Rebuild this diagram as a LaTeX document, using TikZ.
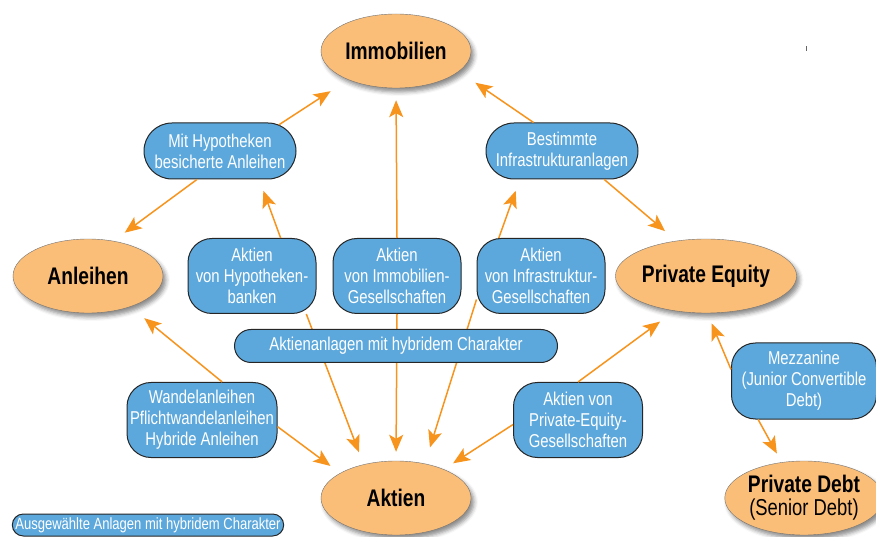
\documentclass[tikz,border=0pt]{standalone}
\usepackage{fontspec}
\setmainfont{Liberation Sans}[FakeStretch=0.8]
\usetikzlibrary{shapes.geometric, shapes.misc, arrows.meta, shadows.blur}
\definecolor{assetorange}{HTML}{FBBE78}
\definecolor{hybblue}{HTML}{5CA8DC}
\definecolor{flowline}{HTML}{F7941D}

\begin{document}
\begin{tikzpicture}[x=1pt, y=-1pt,
		asset/.style={ellipse, draw=black!55, fill=assetorange, minimum width=150pt, minimum height=74pt, inner sep=0pt, font=\fontsize{24}{25}\selectfont\bfseries, blur shadow={shadow xshift=3pt, shadow yshift=-4pt, shadow blur radius=4pt, shadow opacity=45}},
		hybrid/.style={rectangle, rounded corners=24pt, draw=black!85, line width=1pt, fill=hybblue, text=white, align=center, inner sep=0pt, minimum width=128pt, minimum height=75pt, font=\fontsize{18.6}{21}\selectfont},
		hybpill/.style={hybrid, rounded rectangle, sharp corners, minimum height=56pt},
		flow/.style={draw=flowline, line width=1.5pt, -{Stealth[length=17pt, width=14pt, inset=4pt]}}]
		\useasboundingbox (0,0) rectangle (876,537);

		\node[asset] (immo) at (396,51) {Immobilien};
		\node[asset] (anl) at (88,276) {Anleihen};
		\node[asset] (pe) at (706,276) {Private Equity};
		\node[asset] (akt) at (396,498) {Aktien};
		\node[asset, align=center, minimum width=146pt] (pd) at (804,498) {Private Debt\\[-2pt]{\mdseries\fontsize{23}{25}\selectfont (Senior Debt)}};

		\node[hybpill, minimum width=152pt] (mhb) at (220,151) {Mit Hypotheken\\besicherte Anleihen};
		\node[hybpill, minimum width=152pt] (bia) at (562,151) {Bestimmte\\Infrastrukturanlagen};
		\node[hybrid] (avh) at (252,276) {Aktien\\von Hypotheken-\\banken};
		\node[hybrid] (avi) at (397,276) {Aktien\\von Immobilien-\\Gesellschaften};
		\node[hybrid] (avinf) at (541,276) {Aktien\\von Infrastruktur-\\Gesellschaften};
		\node[hybrid, minimum width=150pt] (wand) at (202,420) {Wandelanleihen\\Pflichtwandelanleihen\\Hybride Anleihen};
		\node[hybrid, minimum width=129pt] (ape) at (578,420) {Aktien von\\Private-Equity-\\Gesellschaften};
		\node[hybrid, minimum width=145pt, minimum height=76pt] (mez) at (804,381) {Mezzanine\\(Junior Convertible\\Debt)};
		\node[hybpill, minimum width=271pt, minimum height=22pt, font=\fontsize{16.3}{18}\selectfont] (leg) at (148,525) {Ausgewählte Anlagen mit hybridem Charakter};

		\path
		(mhb.24) edge[flow, shorten >=21pt] (immo.211)
		(mhb.231) edge[flow, shorten >=14pt] (anl.54)
		(avh.53) edge[flow, shorten >=12pt] (mhb.-36)
		(avi.north) edge[flow, shorten >=12pt] (immo.south)
		(bia.135) edge[flow, shorten >=20pt] (immo.-18)
		(bia.-34) edge[flow, shorten >=15pt] (pe.130)
		(avinf.138) edge[flow, shorten >=12pt] (bia.214)
		(wand.62) edge[flow, shorten >=18pt] (anl.-36)
		(wand.-5) edge[flow, shorten >=12pt] (akt.156)
		(avh.-35) edge[flow, shorten >=13pt] (akt.134)
		(avi.south) edge[flow, shorten >=9pt] (akt.north)
		(avinf.200) edge[flow, shorten >=17pt] (akt.50)
		(ape.184) edge[flow, shorten >=11pt] (akt.31)
		(ape.north) edge[flow, shorten >=18pt] (pe.228)
		(mez.171) edge[flow, shorten >=11pt] (pe.-88)
		(mez.220) edge[flow, shorten >=10pt] (pd.122);

		% box in front of the three lines
		\node[hybpill, minimum width=323pt, minimum height=33pt] (hyb) at (396,346) {Aktienanlagen mit hybridem Charakter};

		\fill[black!60] (805.5,46) rectangle (807,51);
	\end{tikzpicture}
\end{document}
